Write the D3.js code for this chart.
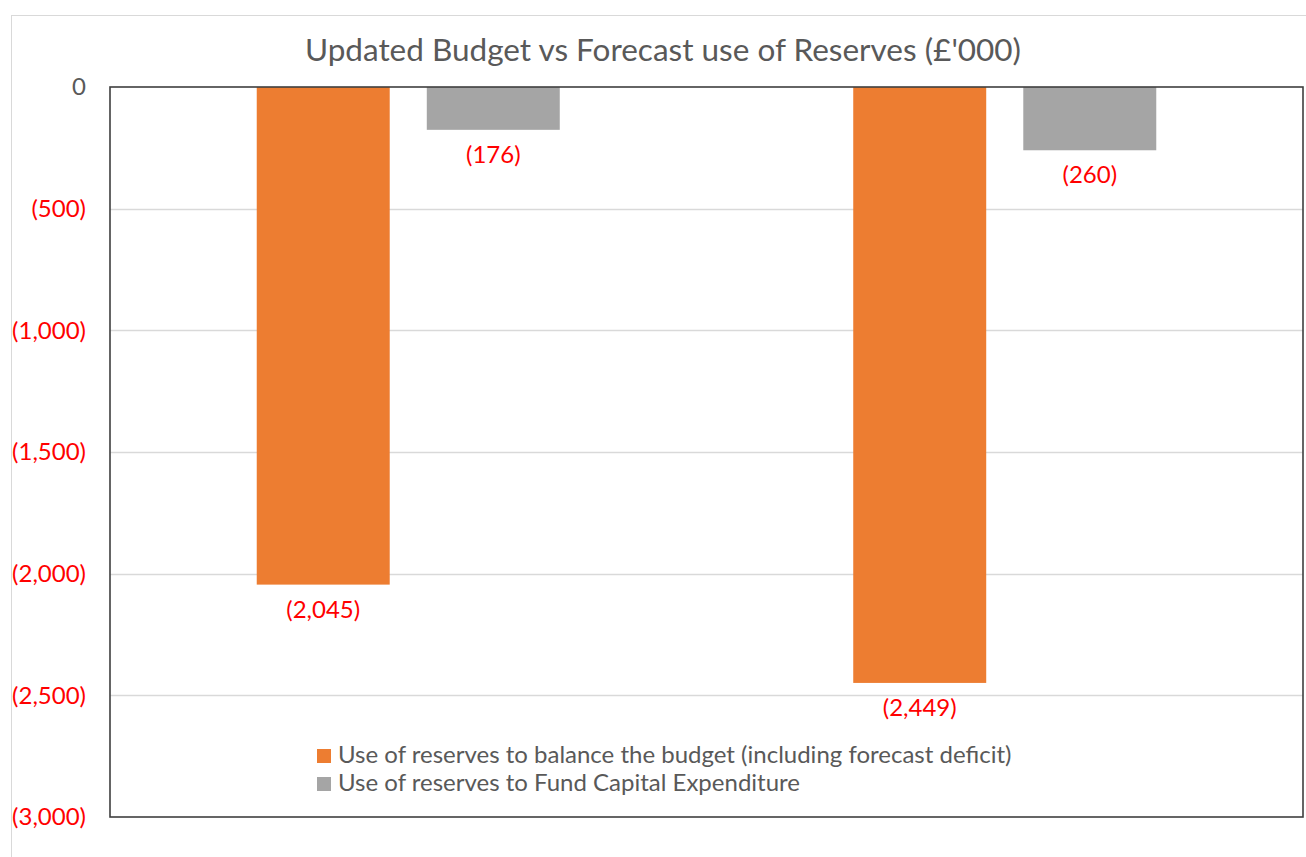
<!DOCTYPE html>
<html>
<head>
<meta charset="utf-8">
<script src="https://cdn.jsdelivr.net/npm/d3@7"></script>
<style>
  html, body { margin: 0; padding: 0; background: #fff; }
  svg { display: block; font-family: Lato, "Open Sans", sans-serif; }
</style>
</head>
<body>
<svg id="chart" width="1306" height="857"></svg>
<script>
// Two budget periods, two kinds of reserve use (£'000)
const categories = ["Updated Budget", "Forecast"];
const seriesNames = [
  "Use of reserves to balance the budget (including forecast deficit)",
  "Use of reserves to Fund Capital Expenditure"
];
const balanceBudget = [-2045, -2449];
const capitalExpenditure = [-176, -260];
const yTicks = [0, -500, -1000, -1500, -2000, -2500, -3000];
const seriesColors = ["#ED7D31", "#A5A5A5"];

const rows = categories.map((c, i) => ({
  category: c,
  values: [
    { series: 0, value: balanceBudget[i] },
    { series: 1, value: capitalExpenditure[i] }
  ]
}));

const svg = d3.select("#chart");
const plot = { left: 110, right: 1303, top: 87, bottom: 817 };

// outer chart frame
svg.append("rect")
  .attr("x", 11.5).attr("y", 15.5)
  .attr("width", 1400).attr("height", 1000)
  .attr("fill", "#fff").attr("stroke", "#d9d9d9").attr("stroke-width", 1);

// title
svg.append("text")
  .attr("x", 663).attr("y", 61)
  .attr("text-anchor", "middle")
  .attr("fill", "#595959")
  .attr("font-size", 31.5)
  .text("Updated Budget vs Forecast use of Reserves (£'000)");

const y = d3.scaleLinear().domain([0, -3000]).range([plot.top, plot.bottom]);
const x0 = d3.scaleBand().domain(categories).range([plot.left, plot.right]).padding(0);
const groupInset = 0.246;
const x1 = d3.scaleBand().domain([0, 1])
  .range([x0.bandwidth() * groupInset, x0.bandwidth() * (1 - groupInset)])
  .paddingInner(0.218).paddingOuter(0);

const fmt = v => v === 0 ? "0" : "(" + d3.format(",")(Math.abs(v)) + ")";

// gridlines
svg.append("g")
  .selectAll("line")
  .data(yTicks.filter(t => t !== 0 && t !== -3000))
  .join("line")
  .attr("x1", plot.left).attr("x2", plot.right)
  .attr("y1", d => Math.round(y(d)) + 0.5).attr("y2", d => Math.round(y(d)) + 0.5)
  .attr("stroke", "#d9d9d9").attr("stroke-width", 1.5);

// y axis labels
const yAxis = d3.axisLeft(y).tickValues(yTicks).tickFormat(fmt).tickSize(0).tickPadding(24);
const yg = svg.append("g").attr("transform", `translate(${plot.left},0)`).call(yAxis);
yg.select(".domain").remove();
yg.selectAll("text")
  .attr("font-family", "Lato, 'Open Sans', sans-serif")
  .attr("font-size", 24)
  .attr("fill", d => d === 0 ? "#595959" : "#FF0000");

// bars
const groups = svg.append("g").selectAll("g")
  .data(rows).join("g")
  .attr("transform", d => `translate(${x0(d.category)},0)`);

groups.selectAll("rect")
  .data(d => d.values).join("rect")
  .attr("x", d => x1(d.series))
  .attr("width", x1.bandwidth())
  .attr("y", d => y(Math.max(0, d.value)))
  .attr("height", d => Math.abs(y(d.value) - y(0)))
  .attr("fill", d => seriesColors[d.series]);

// value labels below each bar
groups.selectAll("text.val")
  .data(d => d.values).join("text")
  .attr("class", "val")
  .attr("x", d => x1(d.series) + x1.bandwidth() / 2)
  .attr("y", d => y(d.value) + 33)
  .attr("text-anchor", "middle")
  .attr("fill", "#FF0000")
  .attr("font-size", 24)
  .text(d => fmt(d.value));

// plot frame
svg.append("rect")
  .attr("x", plot.left).attr("y", plot.top)
  .attr("width", plot.right - plot.left).attr("height", plot.bottom - plot.top)
  .attr("fill", "none").attr("stroke", "#3f3f3f").attr("stroke-width", 1.6);

// legend
const legend = svg.append("g").attr("transform", "translate(317,749)");
const items = legend.selectAll("g").data(seriesNames).join("g")
  .attr("transform", (d, i) => `translate(0,${i * 28})`);
items.append("rect")
  .attr("width", 14).attr("height", 14)
  .attr("fill", (d, i) => seriesColors[i]);
items.append("text")
  .attr("x", 21).attr("y", 14)
  .attr("fill", "#595959")
  .attr("font-size", 24)
  .text(d => d);
</script>
</body>
</html>
